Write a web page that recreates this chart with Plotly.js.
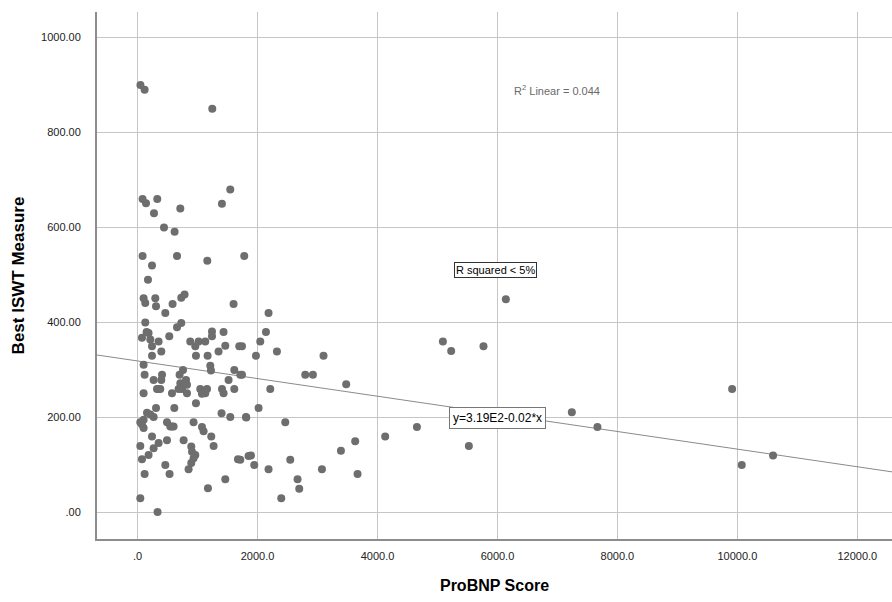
<!DOCTYPE html>
<html>
<head>
<meta charset="utf-8">
<script src="https://cdn.plot.ly/plotly-3.0.1.min.js"></script>
<style>html,body{margin:0;padding:0;background:#fff;}#chart{width:892px;height:602px;}</style>
</head>
<body>
<div id="chart"></div>
<script>
// ProBNP Score (x) and Best ISWT Measure (y)
const proBNP = [
  47, 117, 1245, 1545, 83, 140, 328, 273, 712, 1406,
  440, 617, 83, 657, 1162, 1778, 240, 173, 100, 128,
  295, 307, 462, 583, 728, 783, 1600, 2183, 128, 657,
  728, 73, 183, 212, 350, 240, 528, 878, 1017, 962,
  1128, 1240, 1240, 1433, 1462, 1350, 1695, 1740, 2045, 2140,
  2323, 3100, 240, 395, 973, 1167, 1973, 100, 117, 267,
  407, 395, 700, 757, 807, 712, 1212, 1223, 1517, 1612,
  1712, 2212, 2795, 2923, 3478, 100, 350, 573, 740, 823,
  1045, 1128, 1157, 1407, 1612, 150, 323, 378, 683, 823,
  1073, 1433, 973, 612, 307, 157, 212, 267, 100, 73,
  100, 490, 545, 600, 933, 1073, 1100, 1228, 1267, 1400,
  1545, 1807, 240, 350, 490, 45, 267, 183, 73, 767,
  895, 907, 962, 933, 895, 850, 462, 117, 533, 1673,
  1850, 1462, 1173, 45, 333, 1740, 2017, 1812, 2462, 4128,
  3628, 3390, 1712, 1890, 1945, 2183, 2545, 3073, 3667, 2667,
  2695, 2395, 6140, 5090, 5228, 5767, 7240, 7667, 4657, 5523,
  9912, 10073, 10595, 45, 573
];
const bestISWT = [
  900, 890, 850, 680, 660, 651, 660, 630, 640, 650,
  600, 591, 540, 540, 530, 540, 520, 490, 451, 441,
  451, 434, 420, 439, 452, 459, 439, 420, 400, 390,
  399, 368, 378, 364, 360, 350, 371, 360, 360, 350,
  360, 381, 371, 380, 351, 339, 350, 350, 360, 380,
  339, 330, 330, 339, 330, 330, 330, 311, 290, 279,
  290, 279, 290, 300, 279, 272, 309, 299, 279, 300,
  290, 260, 290, 290, 270, 251, 260, 251, 260, 251,
  260, 251, 260, 260, 260, 380, 260, 260, 260, 269,
  250, 251, 230, 220, 220, 210, 206, 201, 195, 185,
  178, 190, 181, 181, 190, 180, 171, 160, 140, 209,
  201, 201, 160, 146, 152, 140, 135, 121, 112, 152,
  139, 128, 121, 114, 104, 91, 100, 81, 81, 112,
  119, 70, 51, 30, 1, 290, 220, 200, 190, 160,
  150, 130, 111, 120, 100, 91, 111, 91, 81, 70,
  50, 30, 449, 360, 340, 350, 211, 180, 180, 140,
  260, 100, 120, 190, 181
];
// Linear fit line end points (y = 3.19E2 - 0.02*x)
const fitX = [-700, 12600];
const fitY = [332, 85];
const xTickVals = [0, 2000, 4000, 6000, 8000, 10000, 12000];
const xTickText = ['.0', '2000.0', '4000.0', '6000.0', '8000.0', '10000.0', '12000.0'];
const yTickVals = [0, 200, 400, 600, 800, 1000];
const yTickText = ['.00', '200.00', '400.00', '600.00', '800.00', '1000.00'];

const font = 'Liberation Sans, Arial, sans-serif';
const traces = [
  {
    x: fitX, y: fitY, type: 'scatter', mode: 'lines',
    line: {color: '#8a8a8a', width: 1}, hoverinfo: 'skip', showlegend: false
  },
  {
    x: proBNP, y: bestISWT, type: 'scatter', mode: 'markers',
    marker: {color: '#6e6e6e', size: 8, line: {width: 0}}, showlegend: false
  }
];
const layout = {
  width: 892, height: 602,
  margin: {l: 97, r: 0, t: 12, b: 63},
  paper_bgcolor: '#ffffff', plot_bgcolor: '#ffffff',
  font: {family: font, color: '#000000', size: 11},
  showlegend: false,
  xaxis: {
    range: [-677, 12578], tickvals: xTickVals, ticktext: xTickText,
    showgrid: true, gridcolor: '#c6c6c6', gridwidth: 1,
    zeroline: false, showline: true, linecolor: '#8c8c8c', linewidth: 2,
    ticks: '', ticklabelstandoff: 6,
    tickfont: {family: font, size: 11, color: '#222'},
    title: {text: 'ProBNP Score', font: {family: font, size: 16, color: '#000', weight: 'bold'}, standoff: 19}
  },
  yaxis: {
    range: [-56, 1054], tickvals: yTickVals, ticktext: yTickText,
    showgrid: true, gridcolor: '#c6c6c6', gridwidth: 1,
    zeroline: false, showline: true, linecolor: '#8c8c8c', linewidth: 2,
    ticks: '', ticklabelstandoff: 12,
    tickfont: {family: font, size: 11, color: '#222'},
    title: {text: 'Best ISWT Measure', font: {family: font, size: 17, color: '#000', weight: 'bold'}, standoff: 12}
  },
  annotations: [
    {
      x: 7000, y: 890, xref: 'x', yref: 'y', showarrow: false,
      text: 'R<sup>2</sup> Linear = 0.044',
      font: {family: font, size: 11, color: '#6a6a6a'}
    },
    {
      x: 5970, y: 511, xref: 'x', yref: 'y', showarrow: false,
      text: 'R squared &lt; 5%',
      font: {family: font, size: 11, color: '#000'},
      bgcolor: '#ffffff', bordercolor: '#333333', borderwidth: 1, borderpad: 1
    },
    {
      x: 5995, y: 199, xref: 'x', yref: 'y', showarrow: false,
      text: 'y=3.19E2-0.02*x',
      font: {family: font, size: 12, color: '#000'},
      bgcolor: '#ffffff', bordercolor: '#777777', borderwidth: 1, borderpad: 3
    }
  ]
};
Plotly.newPlot('chart', traces, layout, {displayModeBar: false, staticPlot: true});
</script>
</body>
</html>
